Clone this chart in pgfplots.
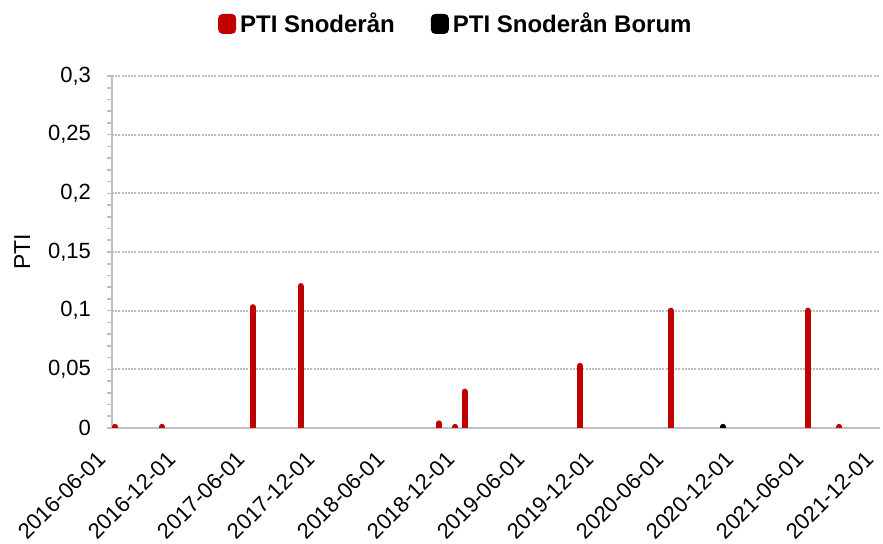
\documentclass[border=0pt]{standalone}
\usepackage{fontspec}
\setmainfont{Liberation Sans}
\usepackage{pgfplots}
\pgfplotsset{compat=1.18}
\definecolor{pred}{HTML}{C00000}
\definecolor{axgray}{HTML}{BFBFBF}
\begin{document}
\begin{tikzpicture}
\useasboundingbox (-56pt,-58pt) rectangle (385.5pt,214pt);
\begin{axis}[
  at={(0,0)}, anchor=south west,
  scale only axis, width=384pt, height=176pt,
  xmin=0, xmax=66, ymin=0, ymax=0.3,
  /pgf/number format/assume math mode=true,
  xtick={0,6,12,18,24,30,36,42,48,54,60,66},
  xticklabels={2016-06-01,2016-12-01,2017-06-01,2017-12-01,2018-06-01,2018-12-01,2019-06-01,2019-12-01,2020-06-01,2020-12-01,2021-06-01,2021-12-01},
  xticklabel style={xshift=-8pt, yshift=-3.5pt, rotate=45, anchor=north east, font=\fontsize{11}{13}\selectfont},
  ytick={0,0.05,0.1,0.15,0.2,0.25,0.3},
  minor y tick num=4,
  yticklabel style={xshift=-4.5pt, font=\fontsize{11}{13}\selectfont, /pgf/number format/.cd, fixed, use comma, precision=2},
  ymajorgrids,
  grid style={axgray, line width=0.9pt, dash pattern=on 1pt off 0.6pt},
  axis x line*=bottom, axis y line*=left,
  axis line style={draw=axgray, line width=1pt},
  tick align=outside, major tick length=2.5pt, minor tick length=2.5pt,
  y tick style={axgray, line width=0.8pt},
  x tick style={draw=none},
  ylabel={PTI},
  ylabel style={at={(axis description cs:-0.117,0.5)}, anchor=center, font=\fontsize{11.5}{13}\selectfont},
  legend style={draw=none, legend columns=2, at={(0.449,1.148)}, anchor=center,
    font=\bfseries\fontsize{12}{14}\selectfont,
    /tikz/every even column/.append style={column sep=16pt}},
  legend cell align=left,
]
\addplot[ycomb, pred, line width=3pt, line cap=round, mark=none,
  legend image code/.code={\fill[pred, rounded corners=1pt] (0pt,-3.5pt) rectangle (6pt,3.5pt);}]
  coordinates {
  (0.26,0.001) (4.3,0.001) (12.1,0.103) (16.2,0.121) (28.1,0.004) (29.5,0.001)
  (30.3,0.031) (40.2,0.053) (48.0,0.100) (59.8,0.100) (62.5,0.001)
  };
\addlegendentry{PTI Snoderån}
\addplot[ycomb, black, line width=3pt, line cap=round, mark=none,
  legend image code/.code={\fill[black, rounded corners=1pt] (0pt,-3.5pt) rectangle (6pt,3.5pt);}]
  coordinates {
  (52.5,0.001)
  };
\addlegendentry{PTI Snoderån Borum}
\end{axis}
\end{tikzpicture}
\end{document}
